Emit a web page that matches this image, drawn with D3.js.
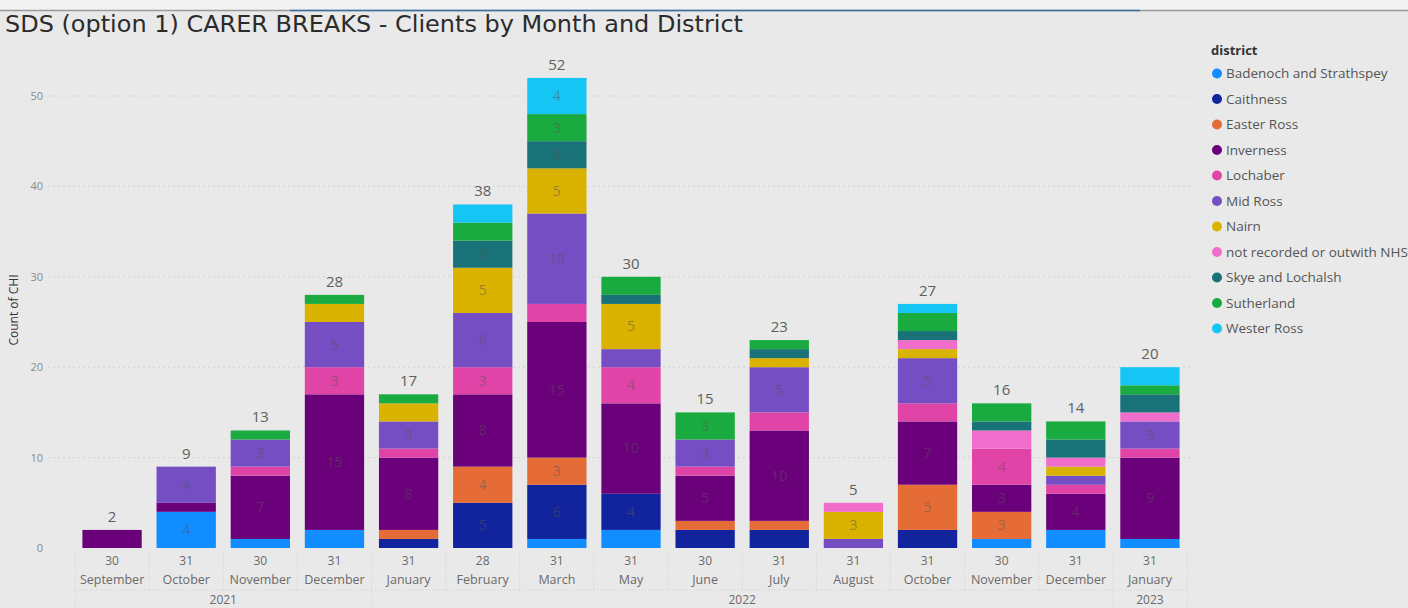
<!DOCTYPE html>
<html>
<head>
<meta charset="utf-8">
<script src="https://cdn.jsdelivr.net/npm/d3@7"></script>
<style>
  body { margin: 0; background: #e9e9e9; overflow: hidden; }
  text { font-family: "Open Sans", "Noto Sans", sans-serif; }
  text.title { font-family: "DejaVu Sans", sans-serif; font-stretch: condensed; }
</style>
</head>
<body>
<div id="chart"></div>
<script>
/* SDS carer breaks - stacked bars by month and district */

const width = 1408,
    height = 608;

const months = ["September", "October", "November", "December", "January", "February", "March",
    "May", "June", "July", "August", "October", "November", "December", "January"];
const days = [30, 31, 30, 31, 31, 28, 31, 31, 30, 31, 31, 31, 30, 31, 31];
const years = ["2021", "2021", "2021", "2021", "2022", "2022", "2022", "2022", "2022", "2022",
    "2022", "2022", "2022", "2022", "2023"];
const yTicks = [0, 10, 20, 30, 40, 50];

const districts = ["Badenoch and Strathspey", "Caithness", "Easter Ross", "Inverness", "Lochaber",
    "Mid Ross", "Nairn", "not recorded or outwith NHS Highland", "Skye and Lochalsh", "Sutherland", "Wester Ross"];
const colors = ["#118DFF", "#12239E", "#E66C37", "#6B007B", "#E044A7",
    "#744EC2", "#D9B300", "#F06DCB", "#197278", "#1AAB40", "#15C6F4"];

/* one array per district, same order as months */
const badenoch   = [0, 4, 1, 2, 0, 0, 1, 2, 0, 0, 0, 0, 1, 2, 1];
const caithness  = [0, 0, 0, 0, 1, 5, 6, 4, 2, 2, 0, 2, 0, 0, 0];
const easterRoss = [0, 0, 0, 0, 1, 4, 3, 0, 1, 1, 0, 5, 3, 0, 0];
const inverness  = [2, 1, 7, 15, 8, 8, 15, 10, 5, 10, 0, 7, 3, 4, 9];
const lochaber   = [0, 0, 1, 3, 1, 3, 2, 4, 1, 2, 0, 2, 4, 1, 1];
const midRoss    = [0, 4, 3, 5, 3, 6, 10, 2, 3, 5, 1, 5, 0, 1, 3];
const nairn      = [0, 0, 0, 2, 2, 5, 5, 5, 0, 1, 3, 1, 0, 1, 0];
const notRecorded = [0, 0, 0, 0, 0, 0, 0, 0, 0, 0, 1, 1, 2, 1, 1];
const skye       = [0, 0, 0, 0, 0, 3, 3, 1, 0, 1, 0, 1, 1, 2, 2];
const sutherland = [0, 0, 1, 1, 1, 2, 3, 2, 3, 1, 0, 2, 2, 2, 1];
const westerRoss = [0, 0, 0, 0, 0, 2, 4, 0, 0, 0, 0, 1, 0, 0, 2];

const series = [badenoch, caithness, easterRoss, inverness, lochaber, midRoss,
    nairn, notRecorded, skye, sutherland, westerRoss];

/* table for d3.stack */
const data = months.map((m, i) => {
    let row = { idx: i };
    districts.forEach((d, j) => row[d] = series[j][i]);
    return row;
});
const totals = months.map((m, i) => d3.sum(series, s => s[i]));

const svg = d3.select("#chart")
    .append("svg")
    .attr("width", width)
    .attr("height", height);

/* screen strip on top */
svg.append("rect").attr("x", 0).attr("y", 0).attr("width", width).attr("height", 10).attr("fill", "#f2f2f2");
svg.append("line").attr("x1", 0).attr("x2", width).attr("y1", 10.5).attr("y2", 10.5)
    .attr("stroke", "#9a9a9a").attr("stroke-width", 1.5);
svg.append("line").attr("x1", 290).attr("x2", 1140).attr("y1", 10.5).attr("y2", 10.5)
    .attr("stroke", "#3b6fa8").attr("stroke-width", 1.5);

svg.append("text")
    .attr("class", "title")
    .attr("x", 5)
    .attr("y", 32)
    .attr("font-size", 23)
    .attr("fill", "#2b2b2b")
    .attr("textLength", 738)
    .attr("lengthAdjust", "spacingAndGlyphs")
    .text("SDS (option 1) CARER BREAKS - Clients by Month and District");

let x = d3.scaleBand()
    .domain(d3.range(months.length))
    .range([75, 1187])
    .paddingInner(0.2)
    .paddingOuter(0.1);

let y = d3.scaleLinear()
    .domain([0, 55])
    .range([548, 548 - 55 * 9.04]);

/* gridlines */
svg.append("g")
    .selectAll("line")
    .data(yTicks.filter(d => d > 0))
    .join("line")
    .attr("x1", 48)
    .attr("x2", 1190)
    .attr("y1", d => y(d))
    .attr("y2", d => y(d))
    .attr("stroke", "#d2d2d2")
    .attr("stroke-dasharray", "2,3");

/* y axis labels */
svg.append("g")
    .attr("transform", "translate(43,0)")
    .call(d3.axisLeft(y).tickValues(yTicks).tickSize(0).tickPadding(0))
    .call(g => g.select(".domain").remove())
    .call(g => g.selectAll("text").attr("fill", "#8a8a8a").attr("font-size", 11));

svg.append("text")
    .attr("transform", "rotate(-90)")
    .attr("x", -310)
    .attr("y", 18)
    .attr("text-anchor", "middle")
    .attr("font-size", 12)
    .attr("fill", "#333")
    .text("Count of CHI");

/* stacked bars */
const stacked = d3.stack().keys(districts)(data);

const layers = svg.append("g")
    .selectAll("g")
    .data(stacked)
    .join("g")
    .attr("fill", (d, i) => colors[i]);

layers.selectAll("rect")
    .data(d => d.filter(p => p[1] > p[0]))
    .join("rect")
    .attr("x", d => x(d.data.idx))
    .attr("width", x.bandwidth())
    .attr("y", d => y(d[1]))
    .attr("height", d => y(d[0]) - y(d[1]));

/* value labels inside segments (only the larger ones) */
layers.selectAll("text")
    .data(d => d.filter(p => p[1] - p[0] >= 3))
    .join("text")
    .attr("x", d => x(d.data.idx) + x.bandwidth() / 2)
    .attr("y", d => (y(d[0]) + y(d[1])) / 2)
    .attr("dy", "0.35em")
    .attr("text-anchor", "middle")
    .attr("font-size", 14)
    .attr("fill", "#555")
    .attr("fill-opacity", 0.5)
    .text(d => d[1] - d[0]);

/* totals */
svg.append("g")
    .selectAll("text")
    .data(totals)
    .join("text")
    .attr("x", (d, i) => x(i) + x.bandwidth() / 2)
    .attr("y", d => y(d) - 8)
    .attr("text-anchor", "middle")
    .attr("font-size", 15)
    .attr("fill", "#5f5f5f")
    .text(d => d);

/* x axis: day row, month row, year row */
const xAxis = svg.append("g").attr("font-size", 12);

xAxis.selectAll(".day")
    .data(days)
    .join("text")
    .attr("x", (d, i) => x(i) + x.bandwidth() / 2)
    .attr("y", 565)
    .attr("text-anchor", "middle")
    .attr("fill", "#6a6a6a")
    .text(d => d);

xAxis.selectAll(".month")
    .data(months)
    .join("text")
    .attr("x", (d, i) => x(i) + x.bandwidth() / 2)
    .attr("y", 584)
    .attr("text-anchor", "middle")
    .attr("fill", "#6a6a6a")
    .attr("font-size", 12.5)
    .text(d => d);

/* category separators */
const step = x.step();
const bounds = d3.range(months.length + 1).map(i => x.range()[0] + i * step);

xAxis.selectAll(".sep")
    .data(bounds)
    .join("line")
    .attr("x1", d => d)
    .attr("x2", d => d)
    .attr("y1", 552)
    .attr("y2", (d, i) => (i === 0 || i === months.length || years[i] !== years[i - 1]) ? 608 : 590)
    .attr("stroke", "#cfcfcf")
    .attr("stroke-dasharray", "1,2");

xAxis.append("line")
    .attr("x1", bounds[0])
    .attr("x2", bounds[bounds.length - 1])
    .attr("y1", 590)
    .attr("y2", 590)
    .attr("stroke", "#cfcfcf")
    .attr("stroke-dasharray", "1,2");

/* year groups */
const yearGroups = d3.groups(d3.range(years.length), i => years[i]);
xAxis.selectAll(".year")
    .data(yearGroups)
    .join("text")
    .attr("x", d => (bounds[d[1][0]] + bounds[d[1][d[1].length - 1] + 1]) / 2)
    .attr("y", 604)
    .attr("text-anchor", "middle")
    .attr("fill", "#6a6a6a")
    .attr("font-size", 12)
    .text(d => d[0]);

/* legend */
const legend = svg.append("g").attr("transform", "translate(1211,0)");

legend.append("text")
    .attr("x", 0)
    .attr("y", 55)
    .attr("font-size", 13)
    .attr("font-weight", "bold")
    .attr("fill", "#333")
    .text("district");

const items = legend.selectAll(".item")
    .data(districts)
    .join("g")
    .attr("transform", (d, i) => `translate(0,${73.5 + i * 25.5})`);

items.append("circle")
    .attr("cx", 6)
    .attr("cy", 0)
    .attr("r", 5)
    .attr("fill", (d, i) => colors[i]);

items.append("text")
    .attr("x", 15)
    .attr("dy", "0.35em")
    .attr("font-size", 13.5)
    .attr("fill", "#555")
    .text(d => d);
</script>
</body>
</html>
